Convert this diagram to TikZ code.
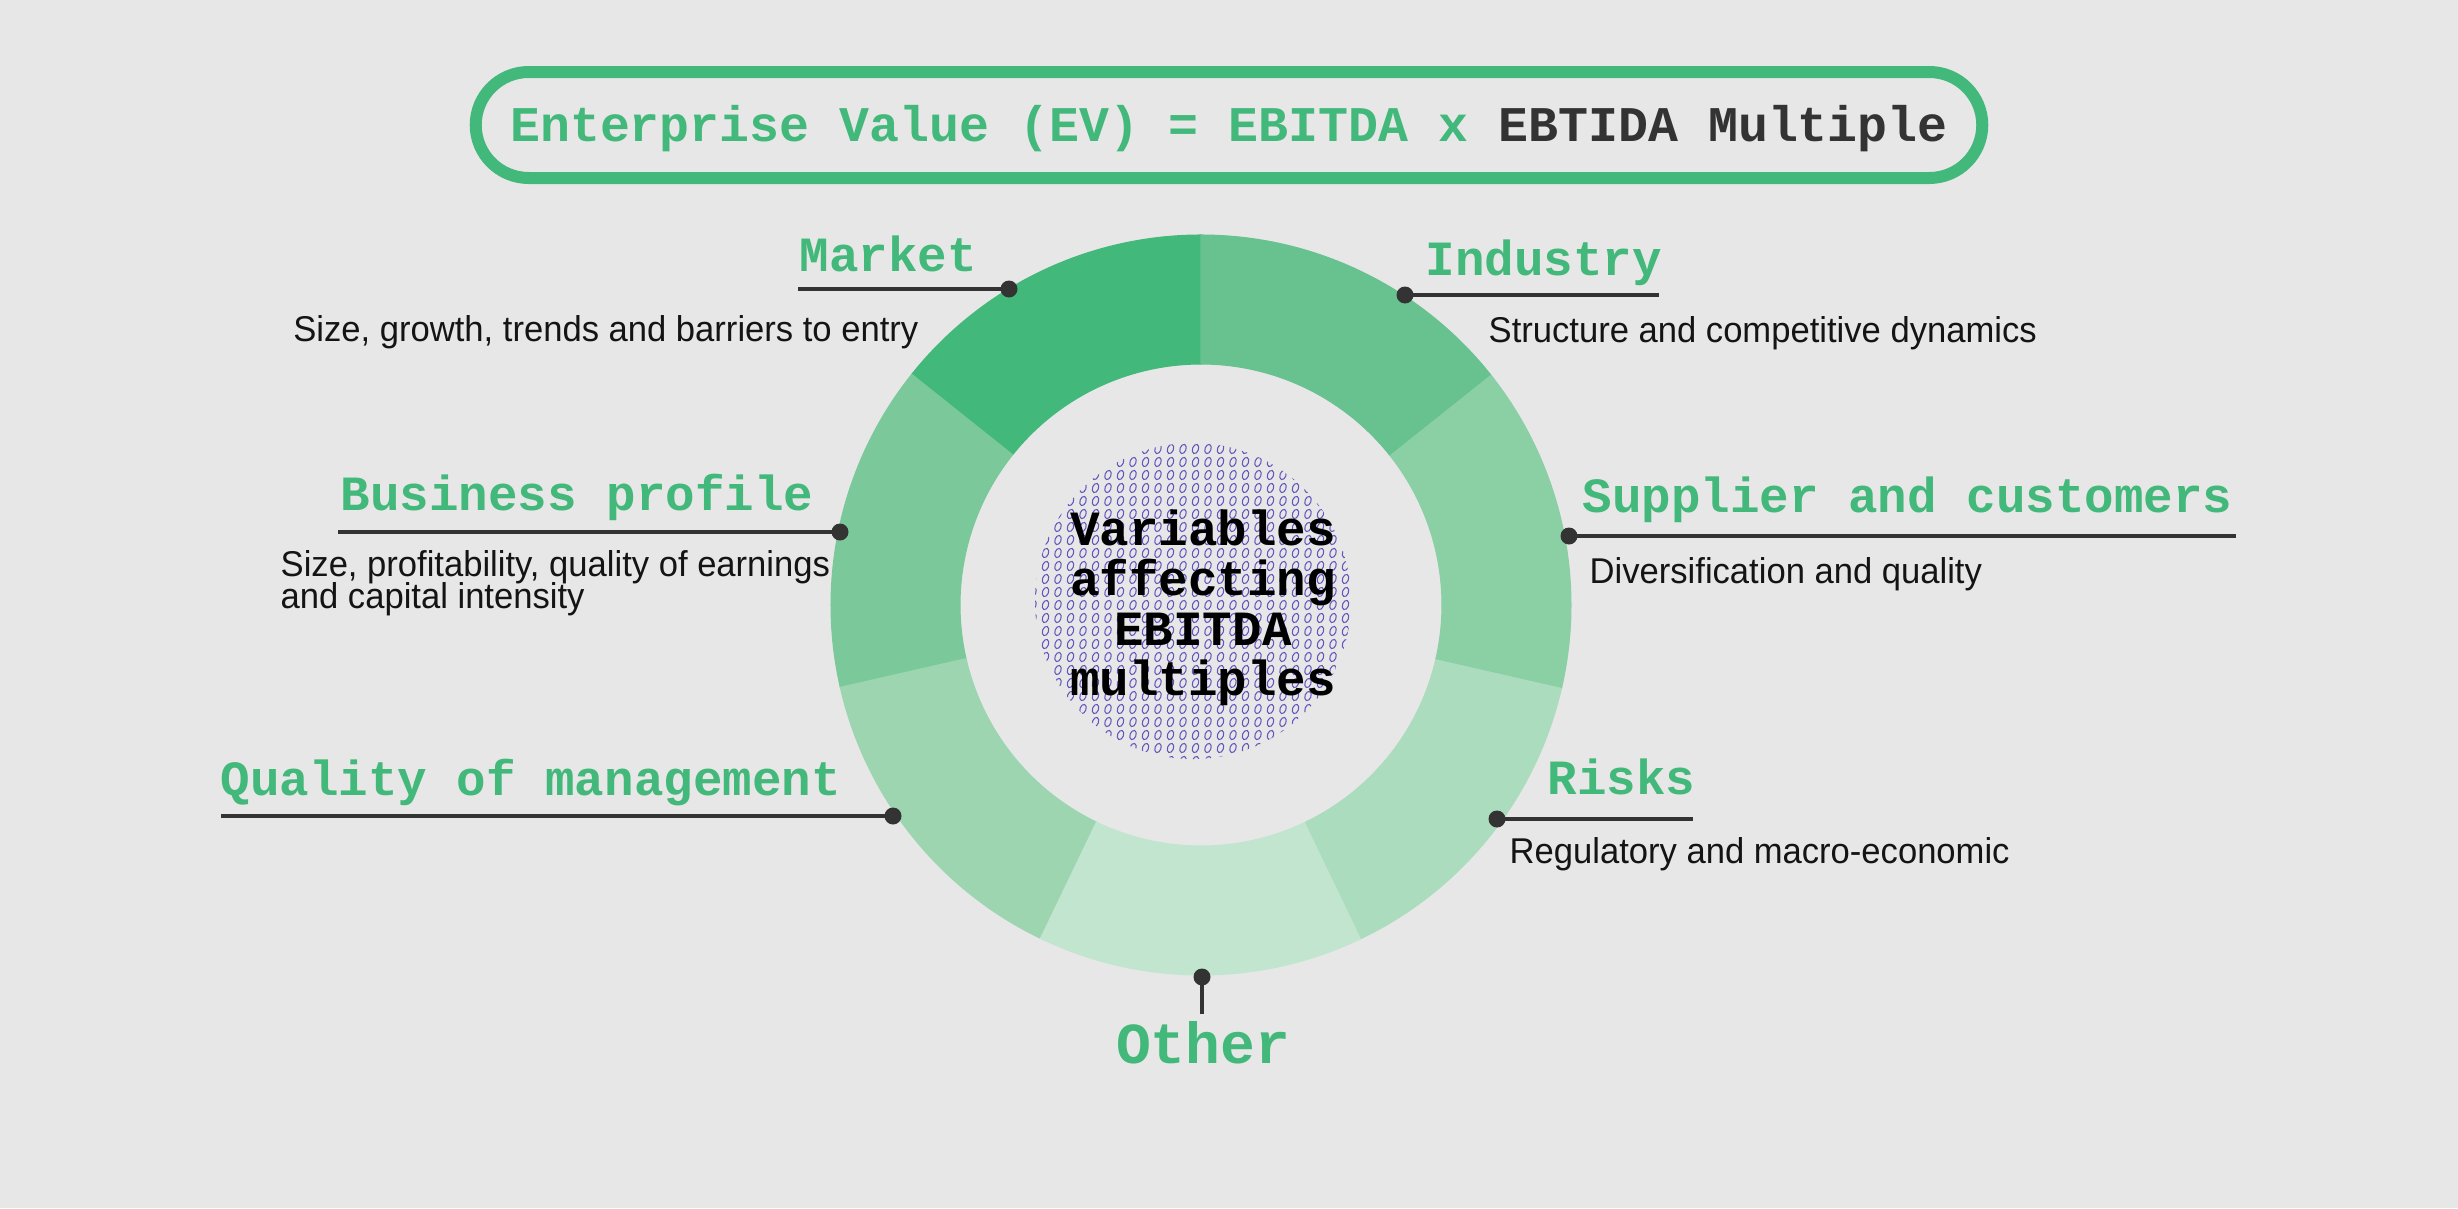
\documentclass[tikz,border=0pt]{standalone}
\usepackage{fontspec}
\usepackage{tikz}
\newfontfamily\headfont{Liberation Mono}
\newfontfamily\descfont{Liberation Sans}[FakeStretch=0.965]
\definecolor{colorbg}      {RGB}{231,231,231}
\definecolor{colorgreen}   {RGB}{67 ,184,123}
\definecolor{colorsegA}    {RGB}{66 ,185,123}
\definecolor{colorsegB}    {RGB}{103,194,143}
\definecolor{colorsegC}    {RGB}{123,201,155}
\definecolor{colorsegD}    {RGB}{139,207,165}
\definecolor{colorsegE}    {RGB}{157,213,176}
\definecolor{colorsegF}    {RGB}{172,220,190}
\definecolor{colorsegG}    {RGB}{193,229,206}
\definecolor{colorline}    {RGB}{51 ,51 ,51 }
\definecolor{colortext}    {RGB}{20 ,20 ,20 }
\definecolor{colordots}    {RGB}{98 ,86 ,188}

\begin{document}
\begin{tikzpicture}[
    head/.style={text=colorgreen,inner sep=0pt,font={\headfont\bfseries\fontsize{14}{16}\selectfont}},
    desc/.style={text=colortext,inner sep=0pt,align=left,font={\descfont\fontsize{10.2}{9}\selectfont\lineskiplimit=-5pt}},
    lead/.style={draw=colorline,line width=1.4pt},
    dot/.style={circle,fill=colorline,inner sep=0pt,minimum size=0.17cm},
    pill/.style={draw=colorgreen,line width=0.12cm,rounded corners=0.53cm,minimum height=1.06cm,inner xsep=0.345cm,text height=0.42cm,text depth=0.1cm},
]

    \fill[colorbg] (0,0) rectangle (24.58,12.08);
    \useasboundingbox (0,0) rectangle (24.58,12.08);

    \begin{scope}[shift={(12.01,6.03)}]
    \foreach \a/\c in {90/colorsegA,141.43/colorsegC,192.86/colorsegE,244.29/colorsegG,295.71/colorsegF,347.14/colorsegD,398.57/colorsegB}
        \filldraw[fill=\c,draw=\c,line width=0.3pt] (\a:3.7) arc[start angle=\a,delta angle=51.43,radius=3.7]
            -- ({\a+51.43}:2.41) arc[start angle={\a+51.43},delta angle=-51.43,radius=2.41] -- cycle;
    \end{scope}

    \begin{scope}
    \clip (11.93,6.07) circle (1.58);
    \foreach \i in {0,...,26}
        \foreach \j in {0,...,25}
            \draw[colordots,line width=0.3pt] ({10.33+\i*0.125},{4.47+\j*0.13}) circle[x radius=0.03,y radius=0.048,rotate=-20];
    \end{scope}

    \node[head,text=black,align=center,font={\headfont\bfseries\fontsize{14}{14.2}\selectfont}] (centre) at (12.03,6.00) {Variables\\affecting\\EBITDA\\multiples};

    \node[head,pill,font={\headfont\bfseries\fontsize{14.2}{16}\selectfont}] (title) at (12.29,10.83) {Enterprise Value (EV) = EBITDA x \textcolor{colorline}{EBTIDA Multiple}};

    \node[head,anchor=base west] (market) at (7.99,9.37) {Market};
    \node[desc,anchor=base east] (marketdesc) at (9.19,8.67) {Size, growth, trends and barriers to entry};
    \node[dot] (marketdot) at (10.09,9.19) {};
    \coordinate (marketend) at (7.98,9.19);
    \draw[lead] (marketdot.center) -- (marketend);

    \node[head,anchor=base west] (industry) at (14.25,9.33) {Industry};
    \node[desc,anchor=base west] (industrydesc) at (14.88,8.66) {Structure and competitive dynamics};
    \node[dot] (industrydot) at (14.05,9.13) {};
    \coordinate (industryend) at (16.59,9.13);
    \draw[lead] (industrydot.center) -- (industryend);

    \node[head,anchor=base east] (business) at (8.14,6.98) {Business profile};
    \node[desc,anchor=base west] (businessdesc) at (2.80,6.00) {Size, profitability, quality of earnings\\and capital intensity};
    \node[dot] (businessdot) at (8.40,6.76) {};
    \coordinate (businessend) at (3.38,6.76);
    \draw[lead] (businessdot.center) -- (businessend);

    \node[head,anchor=base west] (supplier) at (15.82,6.96) {Supplier and customers};
    \node[desc,anchor=base west] (supplierdesc) at (15.89,6.25) {Diversification and quality};
    \node[dot] (supplierdot) at (15.69,6.72) {};
    \coordinate (supplierend) at (22.36,6.72);
    \draw[lead] (supplierdot.center) -- (supplierend);

    \node[head,anchor=base west] (quality) at (2.20,4.13) {Quality of management};
    \node[dot] (qualitydot) at (8.93,3.92) {};
    \coordinate (qualityend) at (2.21,3.92);
    \draw[lead] (qualitydot.center) -- (qualityend);

    \node[head,anchor=base east] (risks) at (16.96,4.14) {Risks};
    \node[desc,anchor=base west] (risksdesc) at (15.09,3.45) {Regulatory and macro-economic};
    \node[dot] (risksdot) at (14.97,3.89) {};
    \coordinate (risksend) at (16.93,3.89);
    \draw[lead] (risksdot.center) -- (risksend);

    \node[head,anchor=base,font={\headfont\bfseries\fontsize{16.5}{18}\selectfont}] (other) at (12.03,1.45) {Other};
    \node[dot] (otherdot) at (12.02,2.31) {};
    \coordinate (otherend) at (12.02,1.94);
    \draw[lead] (otherdot.center) -- (otherend);

\end{tikzpicture}
\end{document}
